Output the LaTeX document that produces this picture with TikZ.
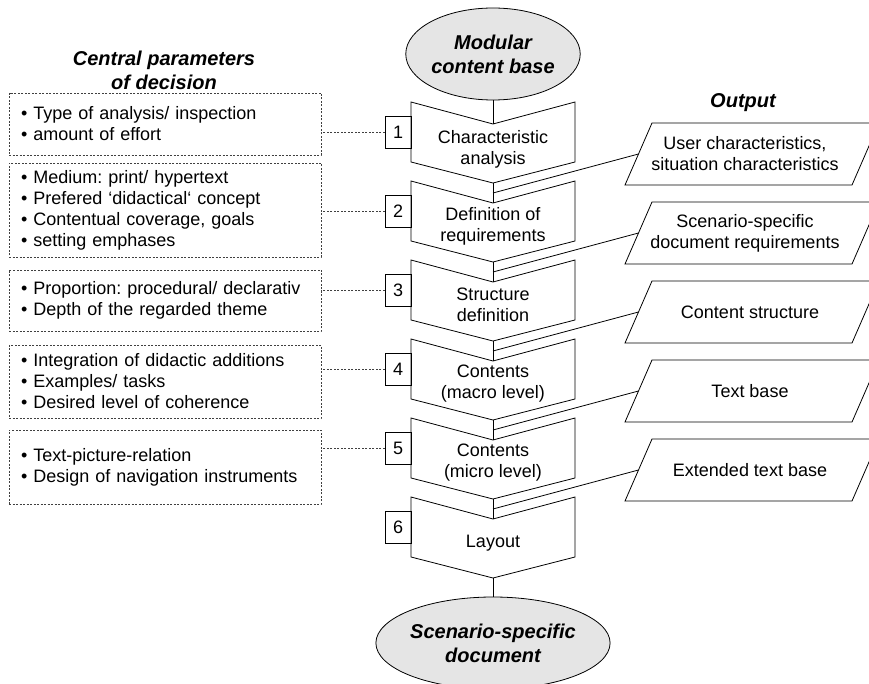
\documentclass[tikz,border=0pt]{standalone}
\usepackage{fontspec}
\setmainfont{Liberation Sans}
\usetikzlibrary{shapes.geometric}
\frenchspacing

\begin{document}
\begin{tikzpicture}[x=1pt, y=-1pt, line width=0.8pt,
    stepbox/.style={anchor = center, align = center, inner sep=0pt, font=\fontsize{18}{21}\selectfont},
    numbox/.style={draw, anchor = center, minimum width=26pt, minimum height=32pt, inner sep=0pt, font=\fontsize{18}{21}\selectfont},
    parambox/.style={draw=black!75, dash pattern=on 2pt off 1.5pt, anchor = center, text width=288pt, inner xsep=12pt, inner ysep=0pt, align=left, font=\fontsize{18}{21}\selectfont},
    dotline/.style={draw=black!75, dash pattern=on 2pt off 1.5pt},
    basebox/.style={ellipse, draw, fill=black!10, minimum width=159pt, minimum height=92pt, inner sep=0pt, align = center, font=\fontsize{20}{24}\selectfont\bfseries\itshape},
    headline/.style={anchor = center, align = center, font=\fontsize{20}{24}\selectfont\bfseries\itshape}]
        \useasboundingbox (0,0) rectangle (869,684);

        % headings
        \node[headline] (hparam) at (164,70){Central parameters\\of decision};
        \node[headline] (hout) at (743,103){Output};

        % start and end
        \node[basebox] (base) at (493,54){Modular\\content base};
        \node[basebox] (doc) at (493,643){Scenario-specific\\document};

        % steps
        \draw (411,102) -- (493,124) coordinate (s1in) -- (575,102) -- (575,162) -- (493,183) coordinate (s1out) -- (411,162) -- cycle;
        \draw (411,181) -- (493,203) coordinate (s2in) -- (575,181) -- (575,241) -- (493,262) coordinate (s2out) -- (411,241) -- cycle;
        \draw (411,260) -- (493,282) coordinate (s3in) -- (575,260) -- (575,320) -- (493,341) coordinate (s3out) -- (411,320) -- cycle;
        \draw (411,339) -- (493,361) coordinate (s4in) -- (575,339) -- (575,399) -- (493,420) coordinate (s4out) -- (411,399) -- cycle;
        \draw (411,418) -- (493,440) coordinate (s5in) -- (575,418) -- (575,478) -- (493,499) coordinate (s5out) -- (411,478) -- cycle;
        \draw (411,497) -- (493,519) coordinate (s6in) -- (575,497) -- (575,557) -- (493,578) coordinate (s6out) -- (411,557) -- cycle;
        \node[stepbox] (s1) at (493,149){Characteristic\\analysis};
        \node[stepbox] (s2) at (493,226){Definition of\\requirements};
        \node[stepbox] (s3) at (493,305){Structure\\definition};
        \node[stepbox] (s4) at (493,384){Contents\\(macro level)};
        \node[stepbox] (s5) at (493,463){Contents\\(micro level)};
        \node[stepbox] (s6) at (493,543){Layout};

        % flow
        \draw (base) -- (s1in);
        \draw (s1out) -- (s2in);
        \draw (s2out) -- (s3in);
        \draw (s3out) -- (s4in);
        \draw (s4out) -- (s5in);
        \draw (s5out) -- (s6in);
        \draw (s6out) -- (doc);

        % numbers
        \node[numbox] (n1) at (398,132){1};
        \node[numbox] (n2) at (398,211){2};
        \node[numbox] (n3) at (398,290){3};
        \node[numbox] (n4) at (398,369){4};
        \node[numbox] (n5) at (398,448){5};
        \node[numbox] (n6) at (398,527){6};

        % parameters
        \node[parambox, minimum height=62pt] (p1) at (165,124){\textbullet{} Type of analysis/ inspection\\\textbullet{} amount of effort};
        \node[parambox, minimum height=94pt] (p2) at (165,210){\textbullet{} Medium: print/ hypertext\\\textbullet{} Prefered ‘didactical‘ concept\\\textbullet{} Contentual coverage, goals\\\textbullet{} setting emphases};
        \node[parambox, minimum height=61pt] (p3) at (165,300.5){\textbullet{} Proportion: procedural/ declarativ\\\textbullet{} Depth of the regarded theme};
        \node[parambox, minimum height=73pt] (p4) at (165,381.5){\textbullet{} Integration of didactic additions\\\textbullet{} Examples/ tasks\\\textbullet{} Desired level of coherence};
        \node[parambox, minimum height=74pt] (p5) at (165,467){\textbullet{} Text-picture-relation\\\textbullet{} Design of navigation instruments};
        \draw[dotline] (n1.west) -- (n1.west -| p1.east);
        \draw[dotline] (n2.west) -- (n2.west -| p2.east);
        \draw[dotline] (n3.west) -- (n3.west -| p3.east);
        \draw[dotline] (n4.west) -- (n4.west -| p4.east);
        \draw[dotline] (n5.west) -- (n5.west -| p5.east);

        % output
        \draw (652,123) -- (879,123) -- (852,185) -- (625,185) -- cycle;
        \draw (652,202) -- (879,202) -- (852,264) -- (625,264) -- cycle;
        \draw (652,281) -- (879,281) -- (852,343) -- (625,343) -- cycle;
        \draw (652,360) -- (879,360) -- (852,422) -- (625,422) -- cycle;
        \draw (652,439) -- (879,439) -- (852,501) -- (625,501) -- cycle;
        \node[stepbox] (o1) at (745,154){User characteristics,\\situation characteristics};
        \node[stepbox] (o2) at (745,233){Scenario-specific\\document requirements};
        \node[stepbox] (o3) at (750,312){Content structure};
        \node[stepbox] (o4) at (750,391){Text base};
        \node[stepbox] (o5) at (750,470){Extended text base};
        \coordinate (o1w) at (638.5,154);
        \coordinate (o2w) at (638.5,233);
        \coordinate (o3w) at (638.5,312);
        \coordinate (o4w) at (638.5,391);
        \coordinate (o5w) at (638.5,470);
        \coordinate (m1) at (493,193);
        \coordinate (m2) at (493,272);
        \coordinate (m3) at (493,351);
        \coordinate (m4) at (493,430);
        \coordinate (m5) at (493,509);
        \draw (o1w) -- (m1);
        \draw (o2w) -- (m2);
        \draw (o3w) -- (m3);
        \draw (o4w) -- (m4);
        \draw (o5w) -- (m5);
    \end{tikzpicture}
\end{document}
